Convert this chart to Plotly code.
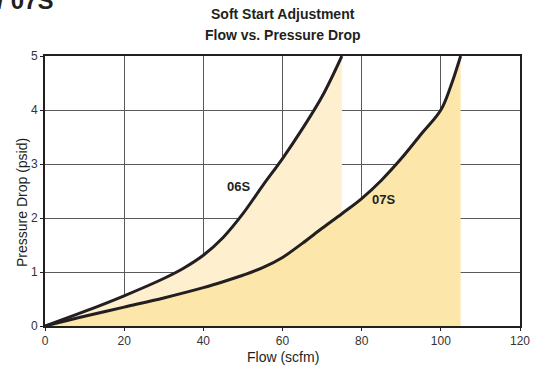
import plotly.graph_objects as go

# Data
flow_06s = [0, 10, 20, 30, 35, 40, 45, 50, 55, 60, 65, 70, 75]
dp_06s = [0, 0.27, 0.56, 0.88, 1.07, 1.31, 1.64, 2.08, 2.6, 3.1, 3.65, 4.25, 5.0]

flow_07s = [0, 10, 20, 30, 40, 45, 50, 55, 60, 65, 70, 75, 80, 85, 90, 95, 100, 102.5, 105]
dp_07s = [0, 0.18, 0.35, 0.52, 0.71, 0.82, 0.94, 1.08, 1.27, 1.53, 1.81, 2.08, 2.36, 2.7, 3.1, 3.55, 4.0, 4.44, 5.0]

x_ticks = [0, 20, 40, 60, 80, 100, 120]
y_ticks = [0, 1, 2, 3, 4, 5]

LINE = "#231f20"
FONT = "Liberation Sans, Arial, sans-serif"

fig = go.Figure()
fig.add_trace(go.Scatter(x=flow_06s, y=dp_06s, mode="lines", fill="tozeroy",
                         fillcolor="#fef0cf", line=dict(color="rgba(0,0,0,0)", width=0, shape="spline"),
                         hoverinfo="skip", showlegend=False))
fig.add_trace(go.Scatter(x=flow_07s, y=dp_07s, mode="lines", fill="tozeroy",
                         fillcolor="#fde6a9", line=dict(color="rgba(0,0,0,0)", width=0, shape="spline"),
                         hoverinfo="skip", showlegend=False))
fig.add_trace(go.Scatter(x=flow_06s, y=dp_06s, mode="lines", name="06S",
                         line=dict(color=LINE, width=3, shape="spline"), showlegend=False))
fig.add_trace(go.Scatter(x=flow_07s, y=dp_07s, mode="lines", name="07S",
                         line=dict(color=LINE, width=3, shape="spline"), showlegend=False))

fig.update_layout(
    width=542, height=367,
    margin=dict(l=45, r=15, t=56, b=41),
    paper_bgcolor="white", plot_bgcolor="white",
    font=dict(family=FONT, color=LINE, size=12),
    xaxis=dict(range=[0, 120], tickvals=x_ticks, showgrid=True, gridcolor="#5a5a5a", gridwidth=1,
               showline=True, linecolor=LINE, linewidth=2, mirror=True,
               ticks="outside", ticklen=3, tickcolor=LINE, zeroline=False,
               tickfont=dict(size=12, color="#333")),
    yaxis=dict(range=[0, 5], tickvals=y_ticks, showgrid=True, gridcolor="#5a5a5a", gridwidth=1,
               showline=True, linecolor=LINE, linewidth=2, mirror=True,
               ticks="outside", ticklen=3, tickcolor=LINE, zeroline=False,
               tickfont=dict(size=12, color="#333")),
    annotations=[
        dict(text="<b>Soft Start Adjustment</b>", xref="paper", yref="paper", x=0.5, y=1,
             yshift=42, showarrow=False, font=dict(size=14, color=LINE), yanchor="middle"),
        dict(text="<b>Flow vs. Pressure Drop</b>", xref="paper", yref="paper", x=0.5, y=1,
             yshift=21, showarrow=False, font=dict(size=14, color=LINE), yanchor="middle"),
        dict(text="Flow (scfm)", xref="paper", yref="paper", x=0.5, y=0, yshift=-31,
             showarrow=False, font=dict(size=14, color=LINE), yanchor="middle"),
        dict(text="Pressure Drop (psid)", xref="paper", yref="paper", x=0, y=0.5, xshift=-23,
             yshift=-12, textangle=-90, showarrow=False, font=dict(size=14, color=LINE), xanchor="center"),
        dict(text="<b>06S</b>", x=49, y=2.58, showarrow=False, font=dict(size=13, color=LINE)),
        dict(text="<b>07S</b>", x=85.4, y=2.35, showarrow=False, font=dict(size=13, color=LINE)),
        dict(text="<b>06S / 07S</b>", xref="paper", yref="paper", x=0, y=1, xshift=10,
             yshift=40, xanchor="right", yanchor="bottom", showarrow=False,
             font=dict(size=24, color=LINE)),
    ],
)

fig.write_html("out.html", config={"displayModeBar": False},
               post_script="document.body.style.margin='0';")
